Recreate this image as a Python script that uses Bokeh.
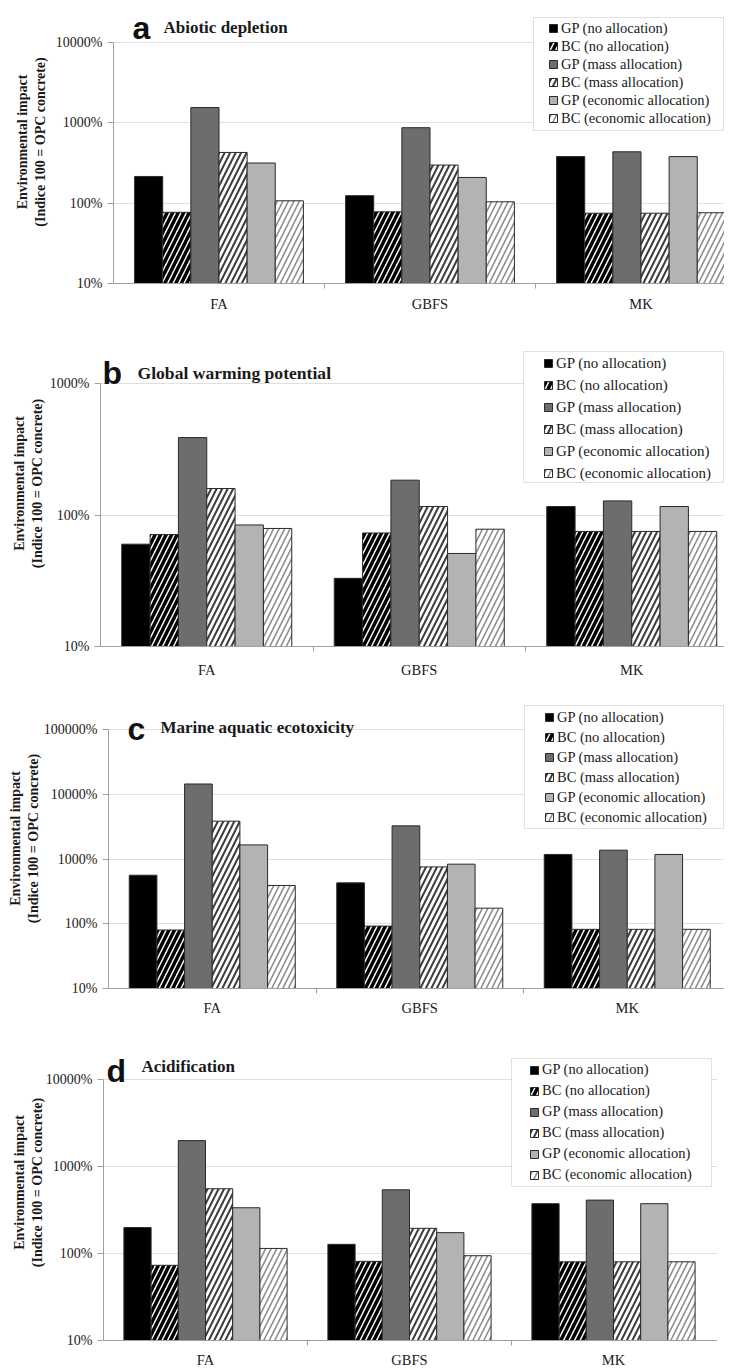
import math
from bokeh.plotting import figure
from bokeh.models import (Range1d, FixedTicker, PrintfTickFormatter, Legend, LegendItem,
                          Label, BoxAnnotation, ColumnDataSource)
from bokeh.embed import file_html
from bokeh.resources import INLINE

categories = ["FA", "GBFS", "MK"]
series = ["GP (no allocation)", "BC (no allocation)", "GP (mass allocation)",
          "BC (mass allocation)", "GP (economic allocation)", "BC (economic allocation)"]

# a - Abiotic depletion (Indice 100 = OPC concrete)
abiotic_gp_none = [215, 124, 380]
abiotic_bc_none = [77, 78, 75]
abiotic_gp_mass = [1550, 870, 436]
abiotic_bc_mass = [428, 298, 75]
abiotic_gp_econ = [316, 209, 380]
abiotic_bc_econ = [107, 104, 76]

# b - Global warming potential
gwp_gp_none = [60, 33, 116]
gwp_bc_none = [71, 73, 75]
gwp_gp_mass = [388, 184, 128]
gwp_bc_mass = [159, 116, 75]
gwp_gp_econ = [84, 51, 116]
gwp_bc_econ = [79, 78, 75]

# c - Marine aquatic ecotoxicity
marine_gp_none = [562, 428, 1175]
marine_bc_none = [80, 92, 82]
marine_gp_mass = [14400, 3250, 1370]
marine_bc_mass = [3840, 755, 82]
marine_gp_econ = [1650, 832, 1175]
marine_bc_econ = [390, 174, 82]

# d - Acidification
acid_gp_none = [198, 127, 372]
acid_bc_none = [73, 81, 80]
acid_gp_mass = [1970, 537, 409]
acid_bc_mass = [552, 194, 80]
acid_gp_econ = [334, 173, 372]
acid_bc_econ = [114, 94, 80]

ticks_a = [10, 100, 1000, 10000]
ticks_b = [10, 100, 1000]
ticks_c = [10, 100, 1000, 10000, 100000]
ticks_d = [10, 100, 1000, 10000]

SERIF = "Liberation Serif"
SANS = "Liberation Sans"

styles = [
    dict(fill_color="#000000"),
    dict(fill_color="white", hatch_pattern="/", hatch_color="#000000", hatch_weight=3.5, hatch_scale=11),
    dict(fill_color="#6d6d6d"),
    dict(fill_color="white", hatch_pattern="/", hatch_color="#3c3c3c", hatch_weight=2.0, hatch_scale=11),
    dict(fill_color="#b3b3b3"),
    dict(fill_color="white", hatch_pattern="/", hatch_color="#8c8c8c", hatch_weight=1.6, hatch_scale=11),
]


def make_panel(letter, title, data, ticks, g):
    frame_w = g["width"] - g["left"] - g["right"]
    lo, hi = math.log10(ticks[0]), math.log10(ticks[-1])
    y_end = 10 ** (hi + g["extra"] / g["plot_h"] * (hi - lo))
    p = figure(width=g["width"], height=g["extra"] + g["plot_h"] + g["bottom"], y_axis_type="log",
               x_range=Range1d(0, frame_w / g["unit"]), y_range=Range1d(ticks[0], y_end),
               output_backend="svg", toolbar_location=None,
               min_border_left=g["left"], min_border_right=g["right"],
               min_border_top=0, min_border_bottom=g["bottom"])
    p.outline_line_color = None
    p.xgrid.visible = False
    p.ygrid.grid_line_color = "#e0e0e0"

    n = len(series)
    w = 0.8 / n
    items = []
    for k, vals in enumerate(data):
        xs = [i + 0.5 + (k - (n - 1) / 2) * w for i in range(len(categories))]
        src = ColumnDataSource(dict(x=xs, top=vals))
        r = p.vbar(x="x", top="top", bottom=ticks[0], width=w, source=src,
                   line_color="#2a2a2a", line_width=1, **styles[k])
        items.append(LegendItem(label=series[k], renderers=[r]))

    xa = p.xaxis[0]
    xa.ticker = FixedTicker(ticks=[i + 0.5 for i in range(len(categories))],
                            minor_ticks=[i for i in range(1, len(categories))])
    xa.major_label_overrides = {i + 0.5: c for i, c in enumerate(categories)}
    xa.axis_line_color = "#a0a0a0"
    xa.major_tick_line_color = None
    xa.major_tick_out = 0
    xa.major_tick_in = 0
    xa.minor_tick_out = 5
    xa.minor_tick_in = 0
    xa.minor_tick_line_color = "#a0a0a0"
    xa.major_label_text_font = SERIF
    xa.major_label_text_font_size = "14.5px"
    xa.major_label_text_color = "#1a1a1a"
    xa.major_label_standoff = g["xstand"]

    ya = p.yaxis[0]
    ya.ticker = FixedTicker(ticks=ticks)
    ya.bounds = (ticks[0], ticks[-1])
    ya.formatter = PrintfTickFormatter(format="%d%%")
    ya.axis_line_color = "#a0a0a0"
    ya.major_tick_out = 6
    ya.major_tick_in = 0
    ya.major_tick_line_color = "#a0a0a0"
    ya.minor_tick_line_color = None
    ya.major_label_text_font = SERIF
    ya.major_label_text_font_size = "14px"
    ya.major_label_text_color = "#1a1a1a"
    ya.major_label_standoff = 5
    ya.axis_label = "Environmental impact\n(Indice 100 = OPC concrete)"
    ya.axis_label_text_font = SERIF
    ya.axis_label_text_font_style = "bold"
    ya.axis_label_text_font_size = "14px"
    ya.axis_label_text_color = "#1a1a1a"
    ya.axis_label_standoff = g["ylstand"]

    bl, br, bb, bt = g["box"]
    box = BoxAnnotation(left=bl, right=br, bottom=bb, top=bt,
                        left_units="screen", right_units="screen",
                        bottom_units="screen", top_units="screen",
                        fill_color="white", fill_alpha=1.0,
                        line_color="#9a9a9a", line_width=1)
    p.add_layout(box)

    leg = Legend(items=items, location=g["legloc"],
                 label_text_font=SERIF, label_text_font_size=g["legfont"],
                 label_text_color="#1a1a1a",
                 label_height=g["row"], glyph_height=10, glyph_width=10,
                 label_standoff=3, spacing=0, padding=3, margin=0,
                 border_line_alpha=0, background_fill_alpha=0)
    p.add_layout(leg)

    lx, ly, tx, ty = g["title"]
    p.add_layout(Label(x=lx, y=ly, x_units="screen", y_units="screen", text=letter,
                       text_font=SANS, text_font_style="bold", text_font_size="32px",
                       text_baseline="alphabetic", text_color="#111111"))
    p.add_layout(Label(x=tx, y=ty, x_units="screen", y_units="screen", text=title,
                       text_font=SERIF, text_font_style="bold", text_font_size=g["tfont"],
                       text_baseline="alphabetic", text_color="#1a1a1a"))
    return p


geo_a = dict(width=724, extra=42, plot_h=241, bottom=37, left=113, right=0, unit=211, xstand=7,
             ylstand=5, box=(420, 610, 153, 266), legloc=(432, 153), row=18, legfont="14.5px",
             title=(19, 256, 50, 256), tfont="17px")
geo_b = dict(width=724, extra=63, plot_h=263, bottom=42, left=100, right=0, unit=212.5, xstand=10,
             ylstand=2, box=(423, 623, 164, 295), legloc=(440, 159), row=22, legfont="15px",
             title=(2, 274, 37, 274), tfont="17.6px")
geo_c = dict(width=724, extra=41, plot_h=259, bottom=36, left=108, right=0, unit=207.5, xstand=6,
             ylstand=0, box=(416, 615, 160, 283), legloc=(433, 158), row=20, legfont="14.5px",
             title=(19, 260, 52, 261), tfont="17px")
geo_d = dict(width=717, extra=55, plot_h=263, bottom=28, left=103, right=0, unit=204, xstand=6,
             ylstand=-2, box=(408, 608, 154, 282), legloc=(423, 152), row=21, legfont="14.5px",
             title=(3, 270, 38, 274), tfont="17px")

pa = make_panel("a", "Abiotic depletion",
                [abiotic_gp_none, abiotic_bc_none, abiotic_gp_mass, abiotic_bc_mass, abiotic_gp_econ, abiotic_bc_econ],
                ticks_a, geo_a)
pb = make_panel("b", "Global warming potential",
                [gwp_gp_none, gwp_bc_none, gwp_gp_mass, gwp_bc_mass, gwp_gp_econ, gwp_bc_econ],
                ticks_b, geo_b)
pc = make_panel("c", "Marine aquatic ecotoxicity",
                [marine_gp_none, marine_bc_none, marine_gp_mass, marine_bc_mass, marine_gp_econ, marine_bc_econ],
                ticks_c, geo_c)
pd_ = make_panel("d", "Acidification",
                 [acid_gp_none, acid_bc_none, acid_gp_mass, acid_bc_mass, acid_gp_econ, acid_bc_econ],
                 ticks_d, geo_d)

open("out.html", "w").write(file_html([pa, pb, pc, pd_], INLINE))
